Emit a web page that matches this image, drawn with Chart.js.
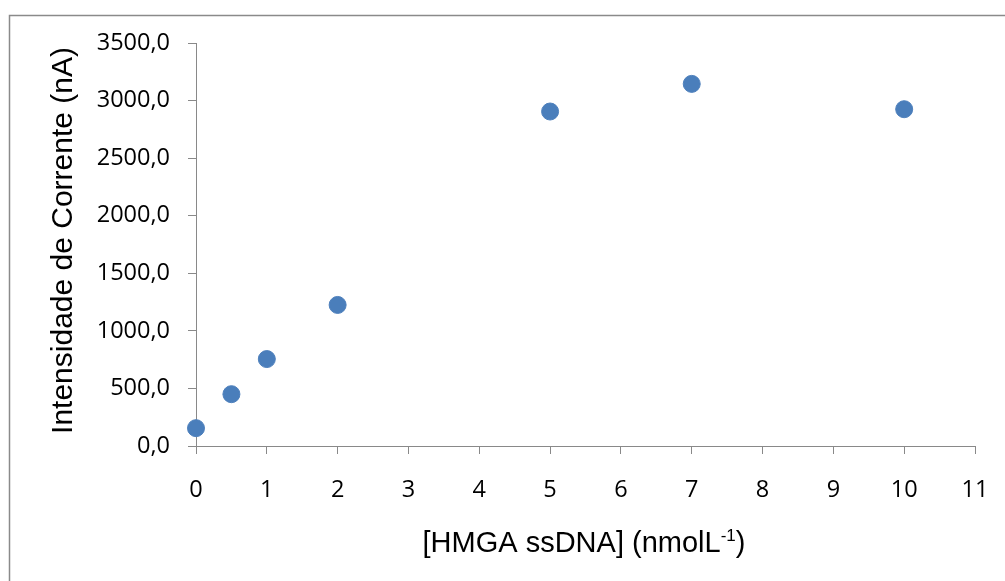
<!DOCTYPE html>
<html>
<head>
<meta charset="utf-8">
<script src="https://cdn.jsdelivr.net/npm/chart.js@4.4.1/dist/chart.umd.min.js"></script>
<style>
  html, body { margin: 0; padding: 0; background: #fff; }
  #wrap { width: 1005px; height: 581px; }
</style>
</head>
<body>
<div id="wrap"><canvas id="chart" width="1005" height="581"></canvas></div>
<script>
// data
const concentrations = [0, 0.5, 1, 2, 5, 7, 10];
const currents = [155, 450, 755, 1225, 2905, 3145, 2925];

const xTickLabels = ['0', '1', '2', '3', '4', '5', '6', '7', '8', '9', '10', '11'];
const yTickLabels = ['0,0', '500,0', '1000,0', '1500,0', '2000,0', '2500,0', '3000,0', '3500,0'];

const yTitle = 'Intensidade de Corrente (nA)';
const xTitleMain = '[HMGA ssDNA] (nmolL';
const xTitleSup = '-1';
const xTitleEnd = ')';

const axisColor = '#898989';
const tickFont = { family: '"Open Sans", sans-serif', size: 23.5 };

// frame + axis titles drawn by hand so the superscript works
const decorations = {
  id: 'decorations',
  beforeDraw(chart) {
    const ctx = chart.ctx;
    ctx.save();
    ctx.fillStyle = '#fff';
    ctx.fillRect(0, 0, chart.width, chart.height);
    ctx.strokeStyle = '#8a8a8a';
    ctx.lineWidth = 1.5;
    ctx.strokeRect(9.5, 15.5, 1200, 800);
    ctx.restore();
  },
  afterDraw(chart) {
    const ctx = chart.ctx;
    const area = chart.chartArea;
    ctx.save();
    ctx.fillStyle = '#000';

    // y title
    ctx.font = '30px "Liberation Sans", Arial, sans-serif';
    ctx.textAlign = 'center';
    ctx.textBaseline = 'alphabetic';
    ctx.translate(72, (area.top + area.bottom) / 2 - 4);
    ctx.rotate(-Math.PI / 2);
    ctx.fillText(yTitle, 0, 0);
    ctx.setTransform(1, 0, 0, 1, 0, 0);

    // x title with superscript
    const mainFont = '29px "Liberation Sans", Arial, sans-serif';
    const supFont = '17px "Liberation Sans", Arial, sans-serif';
    ctx.font = mainFont;
    const w1 = ctx.measureText(xTitleMain).width;
    const w3 = ctx.measureText(xTitleEnd).width;
    ctx.font = supFont;
    const w2 = ctx.measureText(xTitleSup).width;
    const total = w1 + w2 + w3;
    let x = 584 - total / 2;
    const base = 552;
    ctx.textAlign = 'left';
    ctx.font = mainFont;
    ctx.fillText(xTitleMain, x, base);
    x += w1;
    ctx.font = supFont;
    ctx.fillText(xTitleSup, x, base - 11);
    x += w2;
    ctx.font = mainFont;
    ctx.fillText(xTitleEnd, x, base);
    ctx.restore();
  }
};

const ctx = document.getElementById('chart').getContext('2d');
new Chart(ctx, {
  type: 'scatter',
  data: {
    datasets: [{
      data: concentrations.map((c, i) => ({ x: c, y: currents[i] })),
      backgroundColor: '#4a7ebb',
      borderColor: '#4f81bd',
      borderWidth: 1,
      pointRadius: 8.5,
      pointHoverRadius: 8.5,
      clip: false
    }]
  },
  options: {
    responsive: false,
    animation: false,
    layout: { padding: { left: 0, top: 43, right: 30, bottom: 0 } },
    plugins: {
      legend: { display: false },
      tooltip: { enabled: false }
    },
    scales: {
      x: {
        type: 'linear',
        min: 0,
        max: 11,
        afterFit: (scale) => {
          scale.height = 135;
          scale.paddingLeft = 0;
          scale.paddingRight = 0;
        },
        ticks: {
          stepSize: 1,
          color: '#000',
          font: tickFont,
          padding: 22,
          maxRotation: 0,
          callback: (v) => xTickLabels[v]
        },
        grid: {
          drawOnChartArea: false,
          drawTicks: true,
          tickLength: 8,
          color: axisColor
        },
        border: { color: axisColor, width: 1 }
      },
      y: {
        min: 0,
        max: 3500,
        afterFit: (scale) => {
          scale.width = 196;
          scale.paddingTop = 0;
          scale.paddingBottom = 0;
        },
        ticks: {
          stepSize: 500,
          color: '#000',
          font: tickFont,
          padding: 18,
          callback: (v) => yTickLabels[v / 500]
        },
        grid: {
          drawOnChartArea: false,
          drawTicks: true,
          tickLength: 8,
          color: axisColor
        },
        border: { color: axisColor, width: 1 }
      }
    }
  },
  plugins: [decorations]
});
</script>
</body>
</html>
